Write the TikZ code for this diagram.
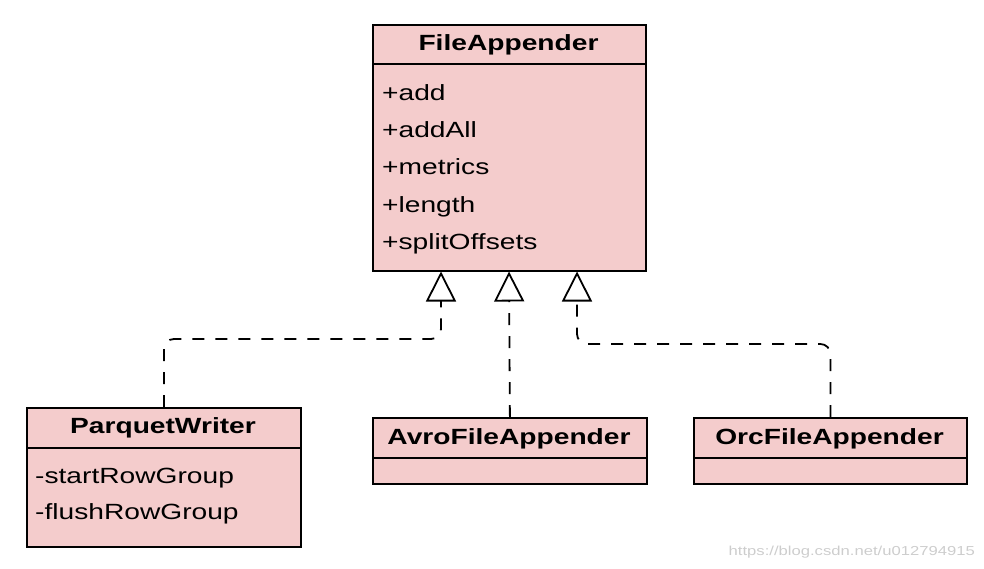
\documentclass[tikz,border=0pt]{standalone}
\usepackage{fontspec}
\setmainfont{Liberation Sans}[FakeStretch=1.28]
\usetikzlibrary{arrows.meta}
\definecolor{boxfill}{RGB}{244,204,204}
\definecolor{wm}{RGB}{205,205,205}
\begin{document}
\begin{tikzpicture}[x=1pt,y=-1pt,
  box/.style={draw=black,fill=boxfill,line width=1.8pt,rectangle,inner sep=0pt,anchor=north west},
  divider/.style={draw=black,line width=1.8pt},
  title/.style={font=\fontsize{22}{26}\selectfont\bfseries,anchor=base,inner sep=0pt},
  item/.style={font=\fontsize{22}{26}\selectfont,anchor=base west,inner sep=0pt},
  impl/.style={draw=black,line width=1.8pt,dash pattern=on 12pt off 11pt,rounded corners=10pt,
    -{Triangle[open,width=30pt,length=30pt,line width=1.8pt]}},
]
\path[use as bounding box] (0,0) rectangle (984,568);

% FileAppender
\node[box,minimum width=273pt,minimum height=246pt] (fa) at (372,24) {};
\draw[divider] (fa.west |- 0,64) -- (fa.east |- 0,64);
\node[title] (fat) at (508.5,50) {FileAppender};
\node[item] (fa1) at (382,100) {+add};
\node[item] (fa2) at (382,137) {+addAll};
\node[item] (fa3) at (382,174.5) {+metrics};
\node[item] (fa4) at (382,212) {+length};
\node[item] (fa5) at (382,249.5) {+splitOffsets};

% ParquetWriter
\node[box,minimum width=274pt,minimum height=139pt] (pw) at (26,407) {};
\draw[divider] (pw.west |- 0,448) -- (pw.east |- 0,448);
\node[title] (pwt) at (163,433) {ParquetWriter};
\node[item] (pw1) at (35,483) {-startRowGroup};
\node[item] (pw2) at (35,519.5) {-flushRowGroup};

% AvroFileAppender
\node[box,minimum width=274pt,minimum height=66pt] (avro) at (372,417) {};
\draw[divider] (avro.west |- 0,458) -- (avro.east |- 0,458);
\node[title] (avrot) at (509,444) {AvroFileAppender};

% OrcFileAppender
\node[box,minimum width=273pt,minimum height=66pt] (orc) at (693,417) {};
\draw[divider] (orc.west |- 0,458) -- (orc.east |- 0,458);
\node[title] (orct) at (829.5,444) {OrcFileAppender};

% arrow tips on FileAppender
\coordinate (t1) at (441,271.5);
\coordinate (t2) at (509,271.5);
\coordinate (t3) at (577,271.5);

\draw[impl] (pw.north) |- (441,339) -- (t1);
\draw[impl] (avro.north) -- (t2);
\draw[impl] (orc.north) |- (577,344) -- (t3);

% watermark
\node[anchor=base east,text=wm,font=\fontsize{13}{15}\selectfont,inner sep=0pt] (wmk) at (975,555) {https://blog.csdn.net/u012794915};
\end{tikzpicture}
\end{document}
